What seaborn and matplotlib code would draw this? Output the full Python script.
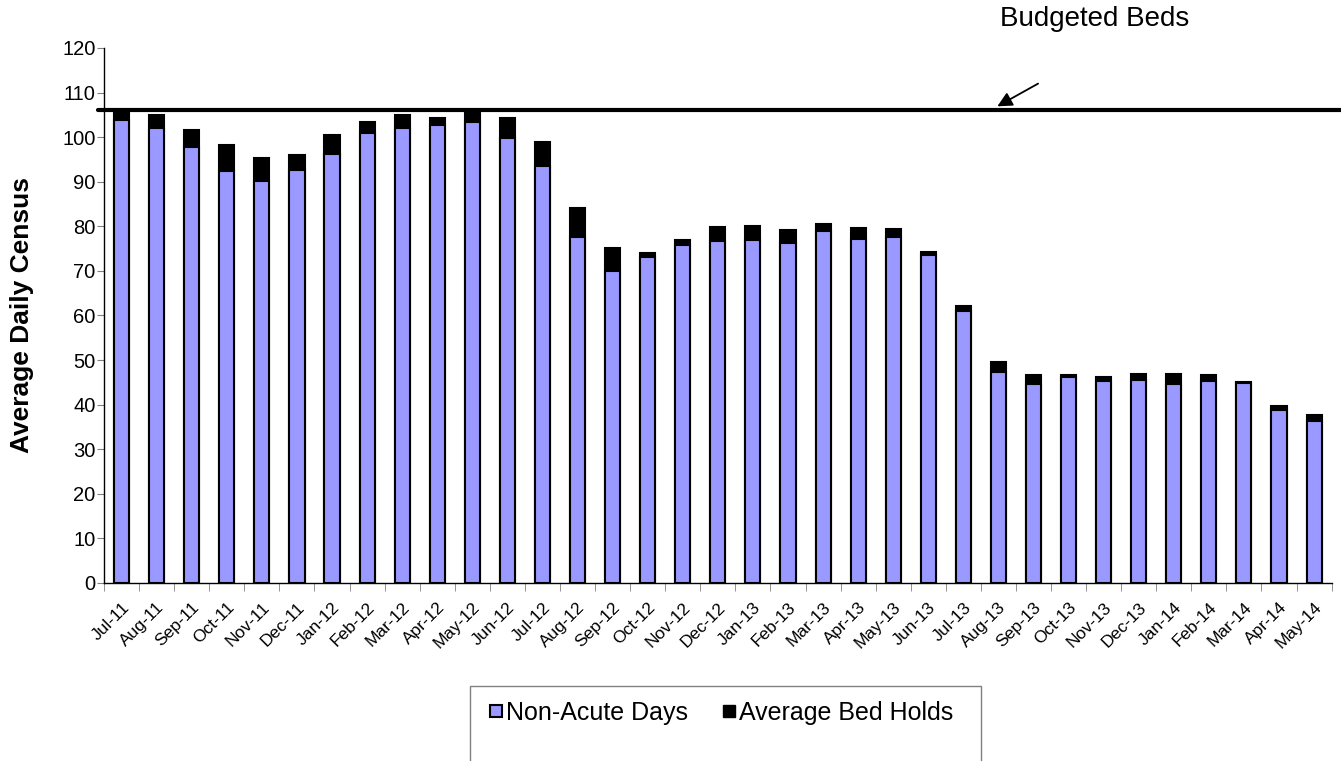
import pandas as pd
import matplotlib
matplotlib.use("Agg")
import matplotlib.pyplot as plt
import seaborn as sns
from matplotlib.lines import Line2D
from matplotlib.patches import Rectangle
from matplotlib.ticker import FixedLocator

# Data
months = ['Jul-11', 'Aug-11', 'Sep-11', 'Oct-11', 'Nov-11', 'Dec-11', 'Jan-12', 'Feb-12',
          'Mar-12', 'Apr-12', 'May-12', 'Jun-12', 'Jul-12', 'Aug-12', 'Sep-12', 'Oct-12',
          'Nov-12', 'Dec-12', 'Jan-13', 'Feb-13', 'Mar-13', 'Apr-13', 'May-13', 'Jun-13',
          'Jul-13', 'Aug-13', 'Sep-13', 'Oct-13', 'Nov-13', 'Dec-13', 'Jan-14', 'Feb-14',
          'Mar-14', 'Apr-14', 'May-14']
non_acute_days = [103.8, 102.1, 97.7, 92.5, 90.2, 92.7, 96.3, 101.0, 102.0, 102.8, 103.3, 99.8,
                  93.6, 77.7, 69.9, 73.0, 75.7, 76.8, 76.9, 76.2, 79.0, 77.1, 77.7, 73.5,
                  61.1, 47.3, 44.6, 46.1, 45.3, 45.6, 44.7, 45.4, 44.8, 38.8, 36.3]
bed_holds = [2.0, 2.8, 3.9, 5.8, 5.2, 3.3, 4.1, 2.4, 3.0, 1.5, 2.6, 4.5,
             5.3, 6.4, 5.3, 1.0, 1.3, 3.1, 3.1, 2.9, 1.5, 2.4, 1.7, 0.8,
             1.0, 2.2, 2.1, 0.5, 1.0, 1.2, 2.2, 1.2, 0.3, 0.9, 1.4]
budgeted_beds = 106

df = pd.DataFrame({'Month': months, 'Non-Acute Days': non_acute_days, 'Average Bed Holds': bed_holds})
df['Total'] = df['Non-Acute Days'] + df['Average Bed Holds']

lilac = '#9999FF'

sns.set_style('white')
plt.rcParams['font.family'] = ['Liberation Sans', 'DejaVu Sans']
plt.rcParams['text.color'] = 'black'
plt.rcParams['axes.labelcolor'] = 'black'

fig = plt.figure(figsize=(13.41, 7.61), dpi=100)
ax = fig.add_axes([0.0776, 0.234, 0.9154, 0.703])

# stacked bars: total (black) behind, non-acute (lilac) in front
sns.barplot(data=df, x='Month', y='Total', order=months, color='black', width=0.43,
            edgecolor='black', linewidth=1.5, saturation=1, ax=ax)
sns.barplot(data=df, x='Month', y='Non-Acute Days', order=months, color=lilac, width=0.43,
            edgecolor='black', linewidth=1.5, saturation=1, ax=ax)

ax.axhline(budgeted_beds, color='black', linewidth=3, xmin=-0.005, xmax=1.01, clip_on=False)

ax.set_xlim(-0.5, len(months) - 0.5)
ax.set_ylim(0, 120)
ax.set_yticks(range(0, 121, 10))
ax.tick_params(axis='y', labelsize=14.5, length=5, color='gray', labelcolor='black',
               left=True, direction='out', pad=1)
ax.set_xticks(range(len(months)))
ax.set_xticklabels(months, rotation=45, ha='right', rotation_mode='anchor', fontsize=12.5)
ax.tick_params(axis='x', which='major', length=0, pad=12, labelcolor='black')
ax.xaxis.set_minor_locator(FixedLocator([i - 0.5 for i in range(len(months) + 1)]))
ax.tick_params(axis='x', which='minor', length=6, color='gray', bottom=True, direction='out')

ax.set_xlabel('')
ax.set_ylabel('Average Daily Census', fontsize=19, fontweight='bold')
ax.yaxis.set_label_coords(-0.057, 0.5)

for side in ['top', 'right']:
    ax.spines[side].set_visible(False)
for side in ['left', 'bottom']:
    ax.spines[side].set_color('black')
    ax.spines[side].set_linewidth(1)

# annotation
ax.text(27.75, 126.4, 'Budgeted Beds', fontsize=20, ha='center', va='center', clip_on=False)
ax.annotate('', xy=(24.9, 106.6), xytext=(26.2, 112.3), annotation_clip=False,
            arrowprops=dict(arrowstyle='-|>', color='black', lw=1.3, mutation_scale=22))

# legend box (runs off the bottom of the picture, as in the original)
fig.patches.append(Rectangle((470 / 1341, -0.05), 511 / 1341, 0.05 + 1 - 686 / 761,
                             transform=fig.transFigure, facecolor='white',
                             edgecolor='gray', linewidth=1))
handles = [Line2D([], [], marker='s', linestyle='none', markerfacecolor=lilac,
                  markeredgecolor='black', markeredgewidth=1.5, markersize=8.5),
           Line2D([], [], marker='s', linestyle='none', markerfacecolor='black',
                  markeredgecolor='black', markersize=8.5)]
leg = fig.legend(handles, ['Non-Acute Days', 'Average Bed Holds'], ncol=2,
                 loc='center', bbox_to_anchor=(720 / 1341, 1 - 713 / 761), fontsize=18,
                 frameon=False, handletextpad=0.05, columnspacing=1.3, handlelength=0.7)

fig.savefig('out.png', dpi=100)
